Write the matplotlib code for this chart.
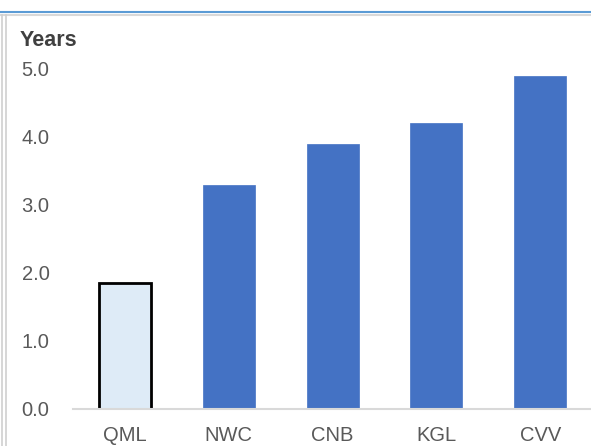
import matplotlib
matplotlib.use("Agg")
import matplotlib.pyplot as plt
from matplotlib.lines import Line2D

plt.rcParams['font.family'] = ['Liberation Sans', 'DejaVu Sans']

categories = ["QML", "NWC", "CNB", "KGL", "CVV"]
years = [1.85, 3.3, 3.9, 4.2, 4.9]
ytick_values = [0.0, 1.0, 2.0, 3.0, 4.0, 5.0]

W, H = 591, 446
fig = plt.figure(figsize=(W / 100, H / 100), dpi=100)

ax = fig.add_axes([73 / W, 37 / H, (W - 73) / W + 0.002, 340 / H])

colors = ["#DEEBF7"] + ["#4472C4"] * (len(categories) - 1)
edges = ["black"] + ["#4472C4"] * (len(categories) - 1)
widths = [2.0] + [0.5] * (len(categories) - 1)
ax.bar(range(len(categories)), years, width=0.5, color=colors,
       edgecolor=edges, linewidth=widths, zorder=3)

ax.set_xlim(-0.5, len(categories) - 0.5)
ax.set_ylim(0, 5.0)
ax.set_yticks(ytick_values)
ax.set_yticklabels([f"{v:.1f}" for v in ytick_values])
ax.set_xticks(range(len(categories)))
ax.set_xticklabels(categories)

for s in ["top", "right", "left"]:
    ax.spines[s].set_visible(False)
ax.spines["bottom"].set_color("#D9D9D9")
ax.spines["bottom"].set_linewidth(1.5)
ax.spines["bottom"].set_zorder(4)

ax.tick_params(axis="both", length=0, labelsize=14.5, colors="#595959")
ax.tick_params(axis="y", pad=17)
ax.tick_params(axis="x", pad=12)
ax.patch.set_visible(False)

fig.text(20 / W, 1 - 40 / H, "Years", fontsize=15.5, fontweight="bold",
         color="#404040", ha="left", va="center")

# panel frame: blue rule with grey shadow on top, double grey rule on the left
fig.add_artist(Line2D([0, 1], [1 - 12 / H, 1 - 12 / H], color="#5B9BD5",
                      linewidth=1.5, transform=fig.transFigure))
fig.add_artist(Line2D([0, 1], [1 - 14.5 / H, 1 - 14.5 / H], color="#D9D9D9",
                      linewidth=1.5, transform=fig.transFigure))
for x in (2, 5.5):
    fig.add_artist(Line2D([x / W, x / W], [0, 1 - 15 / H], color="#D0D0D0",
                          linewidth=1.2, transform=fig.transFigure))

fig.savefig("out.png", dpi=100)
